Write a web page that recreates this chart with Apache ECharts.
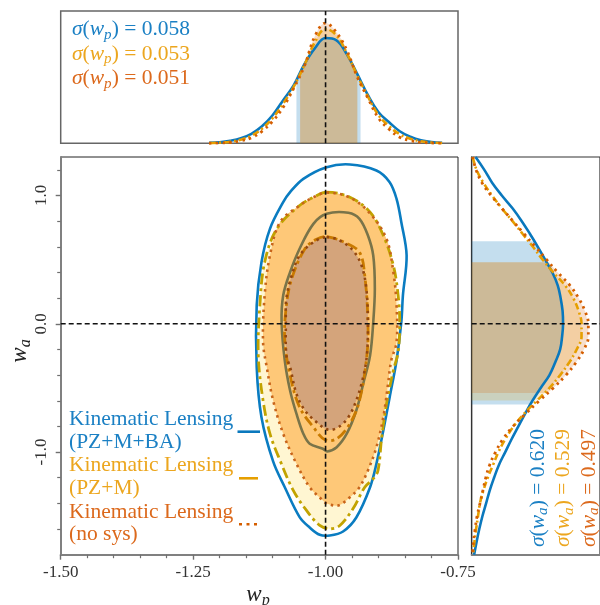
<!DOCTYPE html>
<html><head><meta charset="utf-8">
<script src="https://cdn.jsdelivr.net/npm/echarts@6/dist/echarts.min.js"></script>
<style>html,body{margin:0;padding:0;background:#fff;}#c{width:600px;height:605px;}</style>
</head><body><div id="c"></div>
<script>
// ---------------- DATA ----------------
const TRUE_WP = -1.0, TRUE_WA = 0.0;
const X_TICK_LABELS = ['-1.50', '-1.25', '-1.00', '-0.75'];
const Y_MAJOR_TICKS = [-1.0, 0.0, 1.0];
const Y_MINOR_TICKS = [-1.6,-1.4,-1.2,-0.8,-0.6,-0.4,-0.2,0.2,0.4,0.6,0.8,1.2];
const SIGMA_WP = ['0.058', '0.053', '0.051'];
const SIGMA_WA = ['0.620', '0.529', '0.497'];
const LEGEND_LINES = [['Kinematic Lensing', '(PZ+M+BA)'], ['Kinematic Lensing', '(PZ+M)'], ['Kinematic Lensing', '(no sys)']];

// top marginal: w_p grid and density heights
const TOP_X = [-1.22,-1.20,-1.18,-1.16,-1.14,-1.12,-1.10,-1.08,-1.06,-1.04,-1.02,-1.00,-0.98,-0.96,-0.94,-0.92,-0.90,-0.88,-0.86,-0.84,-0.82,-0.80,-0.78];
const TOP_BLUE   = [0.4,1.0,2.5,5,9.5,17,28,43,58,79,95,105,103,89,69,48,31,21,12,6.5,3,1.3,0.5];
const TOP_ORANGE = [0.2,0.6,1.6,3.6,7.5,14.5,25,39.5,56.5,78,101,114,108,90,67.5,46.5,28,17,9,4.5,2,0.8,0.2];
const TOP_DOTTED = [0,0.3,0.8,2.5,5.5,12,22,36,55,77,107,120,111,93,66,45,25,14,6,2.7,1,0.3,0];
const BAND_WP_BLUE = [-1.055, -0.934];
const BAND_WP_ORANGE = [-1.048, -0.940];
const BAND_WP_DOTTED = [-1.048, -0.940];

// right marginal: w_a grid and density heights
const RIGHT_WA = [1.3,1.2,1.1,1.0,0.9,0.8,0.7,0.6,0.5,0.4,0.3,0.2,0.1,0.0,-0.1,-0.2,-0.3,-0.4,-0.5,-0.6,-0.7,-0.8,-0.9,-1.0,-1.1,-1.2,-1.3,-1.4,-1.5,-1.6,-1.7,-1.8];
const RIGHT_BLUE   = [4,13,21,31,42,51.5,60,68,75.5,83,88.5,91.5,93.5,94,93,91,86,80,71,62.5,55,48,41,34.5,28,23,18.5,14.8,11,7.8,5,2.5];
const RIGHT_ORANGE = [1,5,12,21,31,42,52.5,63,73,84,96,104.5,110,113,113,108,100.5,91,80,67,54,43,34.5,27.5,22,16.5,12,8.5,6.5,4.5,2.8,1.4];
const RIGHT_DOTTED = [1,4.5,10.5,20,31,42.5,54,65.5,77,88.5,101,110,116.5,120,120,115.5,107.5,97,84,69.5,55.6,42.5,32,24.5,18.5,14.5,11.5,8.5,5.5,3.5,1.8,0.6];
const BAND_WA_BLUE = [-0.629, 0.644];
const BAND_WA_ORANGE = [-0.598, 0.48];
const BAND_WA_DOTTED = [-0.54, 0.48];

// 2D contours [w_p, w_a]
const BLUE_OUTER = [[-0.998,1.221],[-0.954,1.242],[-0.904,1.195],[-0.879,1.104],[-0.866,0.974],[-0.857,0.792],[-0.847,0.532],[-0.854,0.221],[-0.857,0.012],[-0.866,-0.286],[-0.879,-0.572],[-0.891,-0.832],[-0.904,-1.091],[-0.916,-1.274],[-0.942,-1.510],[-0.967,-1.619],[-0.992,-1.650],[-1.011,-1.645],[-1.030,-1.588],[-1.049,-1.507],[-1.077,-1.274],[-1.099,-1.073],[-1.121,-0.728],[-1.130,-0.338],[-1.130,0.143],[-1.121,0.480],[-1.105,0.740],[-1.080,0.948],[-1.067,1.026],[-1.042,1.130]];
const BLUE_INNER = [[-0.998,0.857],[-0.957,0.865],[-0.936,0.818],[-0.920,0.688],[-0.910,0.532],[-0.907,0.273],[-0.910,0.012],[-0.916,-0.247],[-0.929,-0.468],[-0.942,-0.676],[-0.960,-0.857],[-0.979,-0.962],[-0.997,-0.995],[-1.005,-0.974],[-1.030,-0.935],[-1.042,-0.857],[-1.055,-0.701],[-1.067,-0.520],[-1.077,-0.286],[-1.083,0.012],[-1.080,0.221],[-1.067,0.402],[-1.049,0.585],[-1.023,0.779]];
const ORANGE_OUTER = [[-0.998,1.026],[-0.954,0.987],[-0.916,0.870],[-0.891,0.688],[-0.872,0.454],[-0.863,0.221],[-0.860,0.012],[-0.863,-0.221],[-0.872,-0.364],[-0.885,-0.624],[-0.894,-0.884],[-0.901,-1.143],[-0.910,-1.208],[-0.926,-1.274],[-0.948,-1.440],[-0.973,-1.572],[-0.992,-1.598],[-1.011,-1.572],[-1.036,-1.455],[-1.061,-1.299],[-1.086,-1.065],[-1.105,-0.857],[-1.118,-0.598],[-1.127,-0.247],[-1.124,0.143],[-1.115,0.480],[-1.092,0.740],[-1.049,0.922],[-1.020,0.992]];
const ORANGE_INNER = [[-0.998,0.680],[-0.964,0.634],[-0.936,0.558],[-0.926,0.376],[-0.920,0.012],[-0.922,-0.247],[-0.936,-0.598],[-0.954,-0.779],[-0.979,-0.896],[-1.001,-0.904],[-1.023,-0.806],[-1.049,-0.650],[-1.067,-0.403],[-1.077,-0.130],[-1.075,0.104],[-1.065,0.337],[-1.039,0.585],[-1.018,0.657]];
const DOTTED_OUTER = [[-0.998,1.023],[-0.954,0.984],[-0.916,0.860],[-0.885,0.662],[-0.872,0.402],[-0.866,0.143],[-0.866,-0.143],[-0.876,-0.286],[-0.882,-0.468],[-0.891,-0.728],[-0.904,-0.962],[-0.920,-1.143],[-0.936,-1.274],[-0.954,-1.352],[-0.976,-1.416],[-0.998,-1.400],[-1.005,-1.377],[-1.030,-1.274],[-1.055,-1.091],[-1.080,-0.857],[-1.099,-0.598],[-1.111,-0.338],[-1.118,-0.143],[-1.115,0.221],[-1.105,0.532],[-1.086,0.792],[-1.049,0.922],[-1.020,0.992]];
const DOTTED_INNER = [[-0.998,0.675],[-0.973,0.649],[-0.948,0.571],[-0.932,0.454],[-0.923,0.273],[-0.920,0.012],[-0.922,-0.247],[-0.929,-0.416],[-0.942,-0.598],[-0.957,-0.728],[-0.976,-0.806],[-0.995,-0.826],[-1.017,-0.767],[-1.039,-0.676],[-1.055,-0.546],[-1.067,-0.338],[-1.074,-0.247],[-1.075,0.012],[-1.074,0.195],[-1.064,0.376],[-1.049,0.532],[-1.023,0.636]];

// ---------------- STYLE ----------------
const FONT = "'Liberation Serif','DejaVu Serif',serif";
const C_BLUE = '#0a78bd', C_ORANGE = '#E69F00', C_RED = '#D55E00';
const T_BLUE = '#1b80c4', T_ORANGE = '#eca61e', T_RED = '#dc691c';
const DASHDOT = [7, 3, 2, 3];
const DASHDOT_MAIN = [11, 4, 3, 4];
const DOTS = [2.5, 4.2];

function interp(xs, ys, x) {
  for (let i = 0; i < xs.length - 1; i++) {
    const a = xs[i], b = xs[i + 1];
    if ((x - a) * (x - b) <= 0) { const t = (x - a) / (b - a); return ys[i] + t * (ys[i + 1] - ys[i]); }
  }
  return 0;
}
function bandTop(xs, ys, band) {
  const out = [[band[0], interp(xs, ys, band[0])]];
  xs.forEach((x, i) => { if (x > band[0] && x < band[1]) out.push([x, ys[i]]); });
  out.push([band[1], interp(xs, ys, band[1])]);
  return out;
}
function bandRight(ws, ds, band) {
  const pts = [[0, band[1]], [interp(ws, ds, band[1]), band[1]]];
  ws.forEach((w, i) => { if (w < band[1] && w > band[0]) pts.push([ds[i], w]); });
  pts.push([interp(ws, ds, band[0]), band[0]]);
  pts.push([0, band[0]]);
  return pts;
}
function polySeries(pts, style, xi, yi, z, smooth) {
  return {
    type: 'custom', xAxisIndex: xi, yAxisIndex: yi, z: z, silent: true, clip: true,
    data: [[TRUE_WP, TRUE_WA]],
    renderItem: function (params, api) {
      return { type: 'polygon', shape: { points: pts.map(p => api.coord(p)), smooth: smooth }, style: style };
    }
  };
}
function lineSeries(data, color, width, dash, xi, yi, z, extra) {
  return Object.assign({
    type: 'line', xAxisIndex: xi, yAxisIndex: yi, data: data, smooth: 0.4, symbol: 'none', silent: true, z: z,
    lineStyle: { color: color, width: width, type: dash || 'solid', cap: 'butt' }
  }, extra || {});
}
function rich(color, size) {
  return {
    i: { fontFamily: FONT, fontStyle: 'italic', fontSize: size, fill: color, lineHeight: size * 1.2 },
    n: { fontFamily: FONT, fontSize: size, fill: color, lineHeight: size * 1.2 },
    s: { fontFamily: FONT, fontStyle: 'italic', fontSize: size * 0.7, fill: color, lineHeight: size * 0.72, verticalAlign: 'bottom' }
  };
}

const series = [];
// --- top marginal
const topSets = [[TOP_BLUE, BAND_WP_BLUE, 'rgba(10,117,184,0.24)'], [TOP_ORANGE, BAND_WP_ORANGE, 'rgba(230,159,0,0.2)'], [TOP_DOTTED, BAND_WP_DOTTED, 'rgba(213,94,0,0.2)']];
topSets.forEach(s => series.push(lineSeries(bandTop(TOP_X, s[0], s[1]), 'rgba(0,0,0,0)', 0, 'solid', 0, 0, 1, { areaStyle: { color: s[2], opacity: 1 } })));
series.push(lineSeries(TOP_X.map((x, i) => [x, TOP_BLUE[i]]), C_BLUE, 2.6, 'solid', 0, 0, 3));
series.push(lineSeries(TOP_X.map((x, i) => [x, TOP_ORANGE[i]]), C_ORANGE, 2.6, DASHDOT, 0, 0, 3));
series.push(lineSeries(TOP_X.map((x, i) => [x, TOP_DOTTED[i]]), C_RED, 2.8, DOTS, 0, 0, 3));
series.push(lineSeries([[TRUE_WP, 0], [TRUE_WP, 132]], '#111', 1.6, [5, 3], 0, 0, 5, { smooth: false }));

// --- right marginal
const rightSets = [[RIGHT_BLUE, BAND_WA_BLUE, 'rgba(10,117,184,0.24)'], [RIGHT_ORANGE, BAND_WA_ORANGE, 'rgba(230,159,0,0.2)'], [RIGHT_DOTTED, BAND_WA_DOTTED, 'rgba(213,94,0,0.2)']];
rightSets.forEach(s => series.push(polySeries(bandRight(RIGHT_WA, s[0], s[1]), { fill: s[2] }, 2, 2, 1, 0)));
series.push(lineSeries(RIGHT_WA.map((w, i) => [RIGHT_BLUE[i], w]), C_BLUE, 2.6, 'solid', 2, 2, 3));
series.push(lineSeries(RIGHT_WA.map((w, i) => [RIGHT_ORANGE[i], w]), C_ORANGE, 2.6, DASHDOT, 2, 2, 3));
series.push(lineSeries(RIGHT_WA.map((w, i) => [RIGHT_DOTTED[i], w]), C_RED, 2.8, DOTS, 2, 2, 3));
series.push(lineSeries([[0, TRUE_WA], [132, TRUE_WA]], '#111', 1.6, [5, 3], 2, 2, 5, { smooth: false }));

// --- main 2D panel
const SM = 0.35;
series.push(polySeries(ORANGE_OUTER, { fill: '#fff6d2' }, 1, 1, 1, SM));
series.push(polySeries(DOTTED_OUTER, { fill: '#fec878' }, 1, 1, 1, SM));
series.push(polySeries(DOTTED_INNER, { fill: '#d4a47b' }, 1, 1, 1, SM));
series.push(polySeries(BLUE_OUTER, { fill: 'none', stroke: '#0a7cc1', lineWidth: 2.6 }, 1, 1, 2, SM));
series.push(polySeries(BLUE_INNER, { fill: 'none', stroke: '#7a7449', lineWidth: 2.6 }, 1, 1, 2, SM));
series.push(polySeries(ORANGE_OUTER, { fill: 'none', stroke: '#c2a300', lineWidth: 2.8, lineDash: DASHDOT_MAIN }, 1, 1, 3, SM));
series.push(polySeries(ORANGE_INNER, { fill: 'none', stroke: '#c97a00', lineWidth: 2.8, lineDash: DASHDOT_MAIN }, 1, 1, 3, SM));
series.push(polySeries(DOTTED_OUTER, { fill: 'none', stroke: '#c8641a', lineWidth: 2.6, lineDash: DOTS }, 1, 1, 4, SM));
series.push(polySeries(DOTTED_INNER, { fill: 'none', stroke: '#94470f', lineWidth: 2.6, lineDash: DOTS }, 1, 1, 4, SM));
series.push(lineSeries([[TRUE_WP, -1.8], [TRUE_WP, 1.3]], '#111', 1.6, [5, 3], 1, 1, 6, { smooth: false }));
series.push(lineSeries([[-1.5, TRUE_WA], [-0.75, TRUE_WA]], '#111', 1.6, [5, 3], 1, 1, 6, { smooth: false }));

// --- graphics: text annotations and legend
const graphic = [];
const cols = [T_BLUE, T_ORANGE, T_RED];
SIGMA_WP.forEach((v, k) => graphic.push({ type: 'text', x: 72, y: 29.5 + k * 24.5, z: 10,
  style: { text: '{i|σ}{n|(}{i|w}{s|p}{n|) = ' + v + '}', rich: rich(cols[k], 21.5), align: 'left', verticalAlign: 'middle' } }));
const rx = [538, 563.5, 589];
SIGMA_WA.forEach((v, k) => graphic.push({ type: 'text', x: rx[k], y: 547, rotation: Math.PI / 2, z: 10,
  style: { text: '{i|σ}{n|(}{i|w}{s|a}{n|) = ' + v + '}', rich: rich(cols[k], 21.5), align: 'left', verticalAlign: 'middle' } }));
LEGEND_LINES.forEach((pair, k) => pair.forEach((t, j) => graphic.push({ type: 'text', x: 69, y: 419.5 + k * 46.2 + j * 22.4, z: 10,
  style: { text: t, font: '21.5px ' + FONT, fill: cols[k], align: 'left', verticalAlign: 'middle' } })));
graphic.push({ type: 'line', z: 10, shape: { x1: 237.5, y1: 431.7, x2: 260, y2: 431.7 }, style: { stroke: C_BLUE, lineWidth: 2.6 } });
graphic.push({ type: 'line', z: 10, shape: { x1: 239, y1: 478.3, x2: 258, y2: 478.3 }, style: { stroke: C_ORANGE, lineWidth: 2.6 } });
graphic.push({ type: 'line', z: 10, shape: { x1: 239, y1: 524.3, x2: 259, y2: 524.3 }, style: { stroke: C_RED, lineWidth: 2.6, lineDash: [3, 4.5] } });
graphic.push({ type: 'text', x: 258, y: 595, z: 10, style: { text: '{i|w}{s|p}', rich: rich('#222', 23), align: 'center', verticalAlign: 'middle' } });
graphic.push({ type: 'text', x: 20, y: 351, rotation: Math.PI / 2, z: 10, style: { text: '{i|w}{s|a}', rich: rich('#222', 23), align: 'center', verticalAlign: 'middle' } });

const hidden = { show: false };
const option = {
  animation: false,
  backgroundColor: '#fff',
  grid: [
    { left: 60.7, top: 11, width: 397.3, height: 132.3, show: true, borderColor: '#666', borderWidth: 1.5, backgroundColor: 'transparent' },
    { left: 60.7, top: 157, width: 397.3, height: 397.7, show: true, borderColor: '#222', borderWidth: 1, backgroundColor: 'transparent' },
    { left: 471.7, top: 157, width: 132, height: 397.7, show: true, borderColor: '#333', borderWidth: 1.2, backgroundColor: 'transparent' }
  ],
  xAxis: [
    { type: 'value', gridIndex: 0, min: -1.5, max: -0.75, show: false, splitLine: hidden },
    { type: 'value', gridIndex: 1, min: -1.5, max: -0.75, interval: 0.25,
      axisLine: { show: true, onZero: false, lineStyle: { color: '#808080', width: 2 } },
      axisTick: { show: true, length: 5, lineStyle: { color: '#707070', width: 1.4 } },
      minorTick: { show: true, splitNumber: 5, length: 3.5, lineStyle: { color: '#707070', width: 1.2 } },
      splitLine: hidden, minorSplitLine: hidden,
      axisLabel: { fontFamily: FONT, fontSize: 17, color: '#333', margin: 9, showMinLabel: true, showMaxLabel: true,
        formatter: function (v) { const i = Math.round((v + 1.5) / 0.25); return X_TICK_LABELS[i] || ''; } } },
    { type: 'value', gridIndex: 2, min: 0, max: 132, splitLine: hidden,
      axisLine: { show: true, onZero: false, lineStyle: { color: '#808080', width: 2 } }, axisTick: hidden, axisLabel: hidden }
  ],
  yAxis: [
    { type: 'value', gridIndex: 0, min: 0, max: 132, show: false, splitLine: hidden },
    { type: 'value', gridIndex: 1, min: -1.8, max: 1.3, position: 'left', offset: 0,
      axisLine: { show: true, onZero: false, lineStyle: { color: '#808080', width: 2 } },
      axisTick: { show: true, length: 5, customValues: Y_MAJOR_TICKS, lineStyle: { color: '#707070', width: 1.4 } },
      axisLabel: { show: true, rotate: 90, margin: 11, customValues: Y_MAJOR_TICKS, fontFamily: FONT, fontSize: 17, color: '#333',
        formatter: function (v) { return v.toFixed(1); } },
      splitLine: hidden },
    { type: 'value', gridIndex: 2, min: -1.8, max: 1.3, splitLine: hidden,
      axisLine: { show: true, onZero: false, lineStyle: { color: '#333', width: 1.2 } }, axisTick: hidden, axisLabel: hidden },
    { type: 'value', gridIndex: 1, min: -1.8, max: 1.3, position: 'left', offset: 0,
      axisLine: { show: false, onZero: false },
      axisTick: { show: true, length: 3.5, customValues: Y_MINOR_TICKS, lineStyle: { color: '#707070', width: 1.2 } },
      axisLabel: { show: true, customValues: Y_MINOR_TICKS, formatter: function () { return ''; } },
      splitLine: hidden }
  ],
  series: series,
  graphic: graphic
};
const chart = echarts.init(document.getElementById('c'), null, { renderer: 'canvas' });
chart.setOption(option);
</script></body></html>
